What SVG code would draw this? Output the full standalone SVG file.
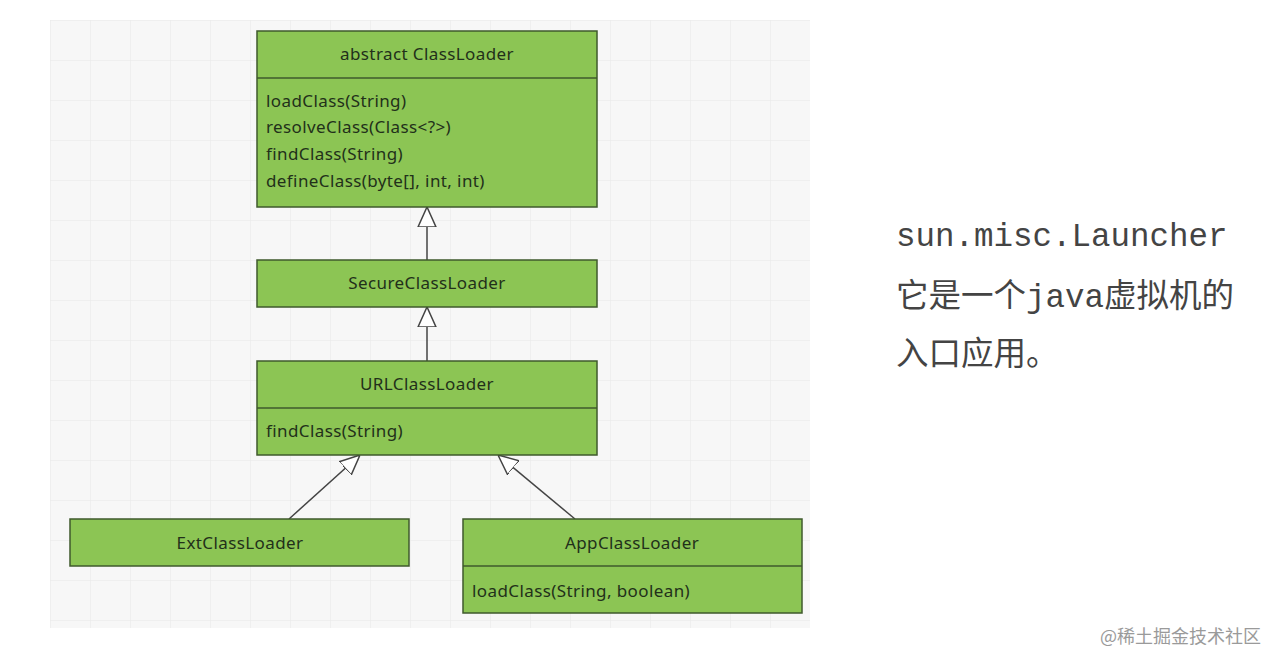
<svg xmlns="http://www.w3.org/2000/svg" width="1280" height="665" viewBox="0 0 1280 665">
<defs>
<pattern id="grid" x="50" y="20" width="40" height="40" patternUnits="userSpaceOnUse">
<path d="M0 0H40M0 0V40" fill="none" stroke="#e8e8e8" stroke-width="1"/>
</pattern>
<marker id="tri" viewBox="0 0 20 20" refX="20" refY="10" markerWidth="20" markerHeight="20" markerUnits="userSpaceOnUse" orient="auto">
<path d="M0 1L20 10L0 19Z" fill="#ffffff" stroke="#444" stroke-width="1.5"/>
</marker>
</defs>
<style>
.box{fill:#8cc554;stroke:#3f5a2c;stroke-width:1.5}
.div{stroke:#3f5a2c;stroke-width:1.5}
.t{font-family:"Noto Sans","DejaVu Sans",sans-serif;font-size:17px;letter-spacing:0.4px;fill:#22301a}
.c{text-anchor:middle}
.edge{stroke:#444;stroke-width:1.5;fill:none}
.mono{font-family:"Liberation Mono","Noto Sans CJK SC",monospace;font-size:32.5px;fill:#444}
</style>
<rect width="1280" height="665" fill="#ffffff"/>
<rect x="50" y="20" width="760" height="608" fill="#f7f7f7"/>
<rect x="50" y="20" width="760" height="608" fill="url(#grid)"/>

<g id="connectors">
<line class="edge" x1="427" y1="260" x2="427" y2="207" marker-end="url(#tri)"/>
<line class="edge" x1="427" y1="361" x2="427" y2="307" marker-end="url(#tri)"/>
<line class="edge" x1="289" y1="519" x2="360" y2="455" marker-end="url(#tri)"/>
<line class="edge" x1="575" y1="519" x2="498" y2="455" marker-end="url(#tri)"/>
</g>

<g id="ClassLoader">
<rect class="box" x="257" y="31" width="340" height="176"/>
<line class="div" x1="257" y1="78" x2="597" y2="78"/>
<text class="t c" x="427" y="60">abstract ClassLoader</text>
<text class="t" x="266" y="107">loadClass(String)</text>
<text class="t" x="266" y="133">resolveClass(Class&lt;?&gt;)</text>
<text class="t" x="266" y="160">findClass(String)</text>
<text class="t" x="266" y="187">defineClass(byte[], int, int)</text>
</g>

<g id="SecureClassLoader">
<rect class="box" x="257" y="260" width="340" height="47"/>
<text class="t c" x="427" y="289">SecureClassLoader</text>
</g>

<g id="URLClassLoader">
<rect class="box" x="257" y="361" width="340" height="94"/>
<line class="div" x1="257" y1="408" x2="597" y2="408"/>
<text class="t c" x="427" y="390">URLClassLoader</text>
<text class="t" x="266" y="437">findClass(String)</text>
</g>

<g id="ExtClassLoader">
<rect class="box" x="70" y="519" width="339" height="47"/>
<text class="t c" x="240" y="549">ExtClassLoader</text>
</g>

<g id="AppClassLoader">
<rect class="box" x="463" y="519" width="339" height="94"/>
<line class="div" x1="463" y1="566" x2="802" y2="566"/>
<text class="t c" x="632" y="549">AppClassLoader</text>
<text class="t" x="472" y="597">loadClass(String, boolean)</text>
</g>

<g id="note">
<text class="mono" x="896" y="246">sun.misc.Launcher</text>
<text class="mono" x="896" y="307">它是一个java虚拟机的</text>
<text class="mono" x="896" y="365">入口应用。</text>
</g>

<text x="1100" y="643" style="font-family:'Noto Sans CJK SC',sans-serif;font-size:18px;fill:#9a9a9a">@稀土掘金技术社区</text>
</svg>
